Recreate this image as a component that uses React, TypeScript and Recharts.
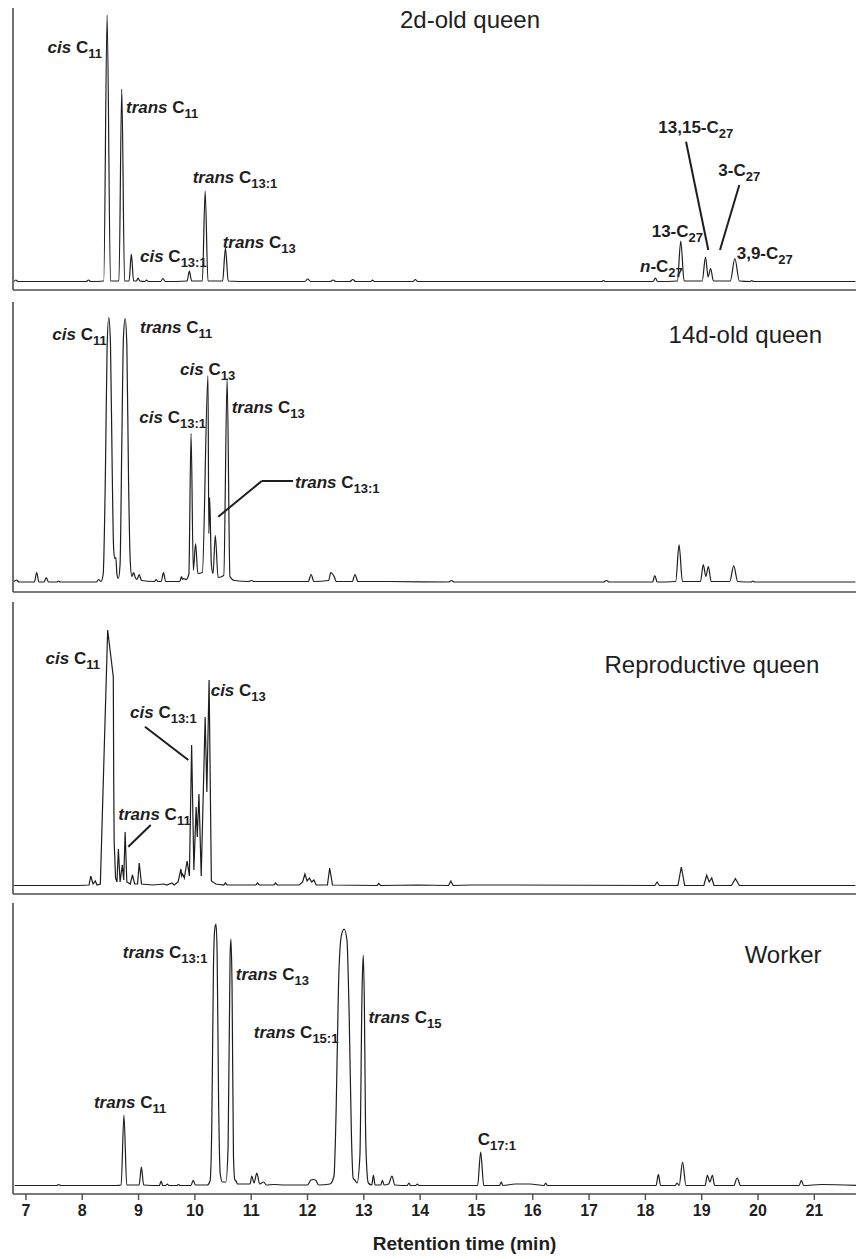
import React from 'react'
import { LineChart, Line, XAxis, YAxis, ReferenceDot, ReferenceLine } from 'recharts'

const FONT = '"Liberation Sans", Arial, Helvetica, sans-serif'
const INK = '#1e1e1e'
const AXIS = '#4d4d4d'

const timeTicks = [7, 8, 9, 10, 11, 12, 13, 14, 15, 16, 17, 18, 19, 20, 21]

// [retention time (min), detector signal (a.u.)]
const queen2d: [number, number][] = [
  [6.84, 0.5], [6.87, 2], [6.91, 0.5], [7.6, 0.5], [8.12, 0.5], [8.16, 2], [8.2, 0.5],
  [8.43, 1], [8.49, 267], [8.55, 1],
  [8.7, 1], [8.75, 193], [8.8, 1],
  [8.88, 1], [8.92, 28], [8.96, 1],
  [9.01, 1], [9.04, 4], [9.07, 1],
  [9.16, 0.5], [9.19, 2], [9.22, 0.5],
  [9.44, 0.5], [9.48, 3.5], [9.52, 0.5],
  [9.91, 1], [9.95, 11], [9.99, 1],
  [10.18, 1], [10.23, 91], [10.28, 1],
  [10.54, 1], [10.59, 34], [10.64, 1],
  [11.0, 0.5], [12.0, 0.5], [12.05, 3], [12.1, 0.5], [12.45, 0.5], [12.5, 2], [12.55, 0.5],
  [12.8, 0.5], [12.85, 2.5], [12.9, 0.5], [13.17, 0.5], [13.2, 2], [13.23, 0.5],
  [13.92, 0.5], [13.96, 2.5], [14.0, 0.5], [17.27, 0.5], [17.3, 1.5], [17.33, 0.5],
  [18.18, 0.5], [18.22, 4], [18.26, 0.5],
  [18.61, 1], [18.67, 41], [18.73, 1],
  [19.05, 1], [19.11, 25], [19.155, 5], [19.2, 13.5], [19.25, 1],
  [19.55, 1], [19.63, 23.5], [19.71, 1],
  [19.9, 0.5], [19.93, 1.5], [19.96, 0.5], [21.77, 0.5],
]

const queen14d: [number, number][] = [
  [6.84, 1], [6.88, 2.5], [6.93, 0.5], [7.2, 0.5], [7.24, 10], [7.28, 0.5], [7.37, 0.5], [7.41, 5],
  [7.45, 0.5], [7.6, 0.5], [7.63, 1.5], [7.66, 0.5], [8.3, 0.5], [8.34, 3], [8.38, 1],
  [8.42, 8], [8.46, 110], [8.49, 235], [8.52, 265], [8.55, 238], [8.58, 115], [8.605, 35],
  [8.625, 24], [8.645, 25], [8.665, 8], [8.69, 4],
  [8.72, 18], [8.75, 135], [8.78, 245], [8.81, 264], [8.84, 238], [8.87, 105], [8.9, 22], [8.93, 6],
  [8.96, 10], [8.99, 5], [9.02, 3], [9.06, 8], [9.1, 2], [9.33, 1], [9.36, 3], [9.39, 1],
  [9.45, 1], [9.49, 10], [9.53, 1], [9.78, 1], [9.81, 6], [9.83, 3], [9.85, 4], [9.89, 3],
  [9.94, 8], [9.98, 149], [10.02, 12], [10.06, 39], [10.1, 9],
  [10.18, 10], [10.28, 207], [10.295, 49], [10.31, 85], [10.34, 18], [10.37, 9],
  [10.41, 47], [10.46, 5], [10.56, 7], [10.62, 204], [10.67, 6], [10.75, 2],
  [11.0, 1], [11.05, 2], [11.1, 1], [12.06, 1], [12.11, 8], [12.16, 1], [12.42, 2], [12.46, 10],
  [12.51, 7], [12.56, 1], [12.84, 1], [12.89, 8], [12.94, 1], [13.5, 1], [14.55, 0.5], [14.6, 2],
  [14.65, 0.5], [17.3, 0.5], [17.35, 2], [17.4, 0.5],
  [18.17, 0.5], [18.21, 7], [18.25, 0.5], [18.58, 1], [18.64, 37.6], [18.7, 1],
  [19.02, 1], [19.07, 18], [19.115, 6], [19.16, 16], [19.21, 1], [19.54, 1], [19.61, 16.6],
  [19.68, 1], [19.92, 0.5], [19.95, 1.5], [19.98, 0.5], [21.77, 0.5],
]

const reproQueen: [number, number][] = [
  [6.84, 0.5], [7.5, 0.5], [8.0, 0.5], [8.17, 1], [8.2, 10], [8.24, 2], [8.28, 5], [8.31, 1], [8.37, 2],
  [8.5, 256], [8.6, 209], [8.607, 110], [8.615, 45], [8.64, 8], [8.665, 4], [8.69, 37], [8.72, 4],
  [8.76, 21], [8.785, 6], [8.81, 54], [8.84, 4], [8.9, 2], [8.94, 11], [8.98, 2], [9.03, 2],
  [9.06, 23], [9.1, 2], [9.3, 1], [9.5, 2], [9.55, 1], [9.64, 3], [9.68, 1], [9.75, 4],
  [9.8, 17], [9.815, 10], [9.83, 12], [9.86, 8], [9.91, 25], [9.95, 10], [9.99, 141],
  [10.03, 16], [10.07, 79], [10.09, 49], [10.12, 92], [10.16, 10], [10.23, 169], [10.26, 94],
  [10.3, 206], [10.34, 5], [10.42, 2], [10.56, 1], [10.59, 3], [10.62, 1], [11.13, 1], [11.16, 3],
  [11.19, 1], [11.45, 1], [11.48, 3], [11.51, 1], [11.9, 1], [11.96, 4], [12.0, 12], [12.04, 5],
  [12.08, 8], [12.12, 4], [12.16, 6], [12.2, 1], [12.4, 1], [12.44, 18], [12.49, 1],
  [13.28, 0.5], [13.31, 2.5], [13.34, 0.5], [14.0, 1], [14.55, 0.5], [14.59, 5], [14.63, 0.5],
  [14.94, 1], [15.74, 1], [18.21, 0.5], [18.25, 4], [18.29, 0.5], [18.62, 0.5], [18.68, 19],
  [18.74, 0.5], [19.08, 0.5], [19.13, 10.7], [19.175, 4], [19.22, 8], [19.26, 0.5],
  [19.57, 0.5], [19.64, 7.3], [19.71, 0.5], [21.77, 0.5],
]

const worker: [number, number][] = [
  [6.8, 0.5], [7.55, 0.5], [7.58, 1.5], [7.62, 0.5], [8.6, 0.5], [8.69, 1], [8.74, 71], [8.79, 1],
  [9.01, 1], [9.05, 19], [9.09, 1], [9.37, 0.5], [9.4, 5], [9.43, 0.5], [9.48, 0.5], [9.51, 2],
  [9.54, 0.5], [9.68, 0.5], [9.71, 1.5], [9.74, 0.5], [9.93, 0.5], [9.97, 5.7], [10.01, 1],
  [10.22, 1], [10.27, 5], [10.3, 60], [10.33, 220], [10.355, 258], [10.375, 262], [10.395, 232],
  [10.42, 90], [10.45, 12], [10.49, 4], [10.55, 4], [10.59, 40], [10.625, 230], [10.64, 247],
  [10.66, 200], [10.685, 30], [10.71, 6], [10.73, 5], [10.76, 2], [10.98, 2], [11.01, 10],
  [11.05, 3], [11.1, 13], [11.15, 2], [11.22, 4], [11.27, 1], [11.4, 1.5], [11.6, 1], [12.0, 1],
  [12.06, 6], [12.1, 6.5], [12.14, 6], [12.2, 1], [12.4, 2], [12.47, 10], [12.51, 80], [12.55, 200],
  [12.6, 250], [12.65, 257], [12.7, 246], [12.74, 170], [12.78, 50], [12.81, 8], [12.84, 6],
  [12.88, 3], [12.93, 30], [12.97, 200], [12.99, 231], [13.01, 180], [13.03, 60], [13.05, 20],
  [13.08, 3], [13.14, 1], [13.17, 10.7], [13.2, 1], [13.3, 1], [13.33, 5.7], [13.36, 1],
  [13.44, 2], [13.5, 10], [13.55, 1], [13.77, 0.5], [13.8, 3], [13.83, 0.5], [13.92, 0.5],
  [13.95, 2], [13.98, 0.5], [15.02, 0.5], [15.075, 34], [15.13, 0.5], [15.41, 0.5], [15.44, 4],
  [15.47, 0.5], [15.69, 2], [15.95, 2], [16.2, 0.5], [16.23, 3], [16.26, 0.5], [18.19, 0.5],
  [18.23, 11.7], [18.27, 0.5], [18.53, 0.5], [18.56, 3], [18.6, 0.5], [18.66, 24], [18.72, 0.5],
  [19.06, 0.5], [19.1, 10.7], [19.145, 4], [19.19, 10.7], [19.23, 0.5], [19.57, 0.5], [19.63, 8],
  [19.69, 0.5], [20.73, 0.5], [20.77, 5.7], [20.81, 0.5], [21.12, 1.5], [21.77, 0.5],
]

type Ann = { t: number; v: number; anchor: 'start' | 'end' | 'middle'; it?: string; main: string; sub?: string; title?: boolean }
type Seg = [number, number, number, number]

const queen2dLabels: Ann[] = [
  { t: 14.93, v: 254, anchor: 'middle', main: '2d-old queen', title: true },
  { t: 8.399, v: 228.7, anchor: 'end', it: 'cis', main: ' C', sub: '11' },
  { t: 8.825, v: 169, anchor: 'start', it: 'trans', main: ' C', sub: '11' },
  { t: 10.009, v: 99, anchor: 'start', it: 'trans', main: ' C', sub: '13:1' },
  { t: 9.074, v: 20, anchor: 'start', it: 'cis', main: ' C', sub: '13:1' },
  { t: 10.541, v: 34, anchor: 'start', it: 'trans', main: ' C', sub: '13' },
  { t: 18.272, v: 149.3, anchor: 'start', main: '13,15-C', sub: '27' },
  { t: 19.336, v: 106, anchor: 'start', main: '3-C', sub: '27' },
  { t: 18.154, v: 45.3, anchor: 'start', main: '13-C', sub: '27' },
  { t: 17.947, v: 10.3, anchor: 'start', it: 'n', main: '-C', sub: '27' },
  { t: 19.663, v: 22.7, anchor: 'start', main: '3,9-C', sub: '27' },
]
const queen2dLeaders: Seg[] = [
  [18.764, 140.3, 19.159, 32],
  [19.709, 97, 19.366, 32],
]

const queen14dLabels: Ann[] = [
  { t: 21.177, v: 239.5, anchor: 'end', main: '14d-old queen', title: true },
  { t: 8.483, v: 242.5, anchor: 'end', it: 'cis', main: ' C', sub: '11' },
  { t: 9.074, v: 249.5, anchor: 'start', it: 'trans', main: ' C', sub: '11' },
  { t: 9.784, v: 207.5, anchor: 'start', it: 'cis', main: ' C', sub: '13' },
  { t: 10.245, v: 159.5, anchor: 'end', it: 'cis', main: ' C', sub: '13:1' },
  { t: 10.701, v: 169.5, anchor: 'start', it: 'trans', main: ' C', sub: '13' },
  { t: 11.824, v: 94.2, anchor: 'start', it: 'trans', main: ' C', sub: '13:1' },
]
const queen14dLeaders: Seg[] = [
  [11.789, 101.5, 11.234, 101.5],
  [11.234, 101.5, 10.463, 65.8],
]

const reproLabels: Ann[] = [
  { t: 21.129, v: 212.7, anchor: 'end', main: 'Reproductive queen', title: true },
  { t: 8.364, v: 222, anchor: 'end', it: 'cis', main: ' C', sub: '11' },
  { t: 10.08, v: 168, anchor: 'end', it: 'cis', main: ' C', sub: '13:1' },
  { t: 8.689, v: 66, anchor: 'start', it: 'trans', main: ' C', sub: '11' },
  { t: 10.328, v: 190, anchor: 'start', it: 'cis', main: ' C', sub: '13' },
]
const reproLeaders: Seg[] = [
  [9.162, 159.3, 9.931, 126],
  [9.264, 61, 8.866, 39.3],
]

const workerLabels: Ann[] = [
  { t: 21.128, v: 223, anchor: 'end', main: 'Worker', title: true },
  { t: 10.222, v: 228, anchor: 'end', it: 'trans', main: ' C', sub: '13:1' },
  { t: 10.727, v: 206, anchor: 'start', it: 'trans', main: ' C', sub: '13' },
  { t: 12.549, v: 148, anchor: 'end', it: 'trans', main: ' C', sub: '15:1' },
  { t: 13.081, v: 163.3, anchor: 'start', it: 'trans', main: ' C', sub: '15' },
  { t: 8.207, v: 78, anchor: 'start', it: 'trans', main: ' C', sub: '11' },
  { t: 15.021, v: 41, anchor: 'start', main: 'C', sub: '17:1' },
]

// top: where the panel's svg starts; padTop: blank space above the plot
const panels = [
  { key: 'q2', data: queen2d, labels: queen2dLabels, leaders: queen2dLeaders, top: 0, padTop: 8, plotH: 282, y: [-8, 274], x: [6.82, 21.78], curve: 'monotone' },
  { key: 'q14', data: queen14d, labels: queen14dLabels, leaders: queen14dLeaders, top: 302, padTop: 0, plotH: 290, y: [-9.5, 280.5], x: [6.82, 21.78], curve: 'monotone' },
  { key: 'rq', data: reproQueen, labels: reproLabels, leaders: reproLeaders, top: 602, padTop: 0, plotH: 292, y: [-8, 284], x: [6.82, 21.78], curve: 'linear' },
  { key: 'w', data: worker, labels: workerLabels, leaders: [] as Seg[], top: 903, padTop: 0, plotH: 291, y: [-8, 283], x: [6.77, 21.74], curve: 'monotone' },
]

const AnnText = ({ cx, cy, a }: { cx: number; cy: number; a: Ann }) => {
  if (a.title) {
    return (
      <text x={cx} y={cy} textAnchor={a.anchor} fontFamily={FONT} fontSize={24} fill={INK}>
        {a.main}
      </text>
    )
  }
  return (
    <text x={cx} y={cy} textAnchor={a.anchor} fontFamily={FONT} fontSize={17} fontWeight="bold" fill={INK} style={{ whiteSpace: 'pre' }}>
      {a.it && <tspan fontStyle="italic">{a.it}</tspan>}
      <tspan>{a.main}</tspan>
      {a.sub && <tspan fontSize={13} dy={5}>{a.sub}</tspan>}
    </text>
  )
}

const AxisTitle = (props: any) => {
  const vb = props.viewBox || { x: 0, y: 0, width: 0 }
  return (
    <text x={vb.x + vb.width / 2 + 30} y={vb.y + 56} textAnchor="middle" fontFamily={FONT} fontSize={19} fontWeight="bold" fill={INK}>
      Retention time (min)
    </text>
  )
}

export default function App() {
  return (
    <div style={{ position: 'absolute', left: 0, top: 0, width: 856, height: 1259, background: '#fff' }}>
      {panels.map((p, i) => {
        const last = i === panels.length - 1
        const axisH = last ? 65 : 8
        const rows = p.data.map(([t, v]) => ({ t, v }))
        return (
          <div key={p.key} style={{ position: 'absolute', left: 0, top: p.top }}>
            <LineChart
              width={856}
              height={p.padTop + p.plotH + axisH}
              data={rows}
              margin={{ top: p.padTop, right: 0, bottom: 0, left: 12 }}
            >
              <XAxis
                dataKey="t"
                type="number"
                domain={p.x}
                allowDataOverflow
                ticks={timeTicks}
                interval={0}
                height={axisH}
                tickSize={6}
                tickMargin={5}
                axisLine={{ stroke: AXIS, strokeWidth: 1.6 }}
                tickLine={{ stroke: AXIS, strokeWidth: 1.4 }}
                tick={last ? { fill: INK, fontSize: 16, fontWeight: 'bold', fontFamily: FONT } : false}
                label={last ? <AxisTitle /> : undefined}
              />
              <YAxis
                type="number"
                domain={p.y}
                allowDataOverflow
                width={1}
                tick={false}
                tickLine={false}
                axisLine={{ stroke: AXIS, strokeWidth: 1.6 }}
              />
              <Line
                dataKey="v"
                type={p.curve as any}
                stroke={INK}
                strokeWidth={1.2}
                dot={false}
                activeDot={false}
                isAnimationActive={false}
              />
              {p.leaders.map((s, j) => (
                <ReferenceLine
                  key={'l' + j}
                  segment={[{ x: s[0], y: s[1] }, { x: s[2], y: s[3] }]}
                  stroke={INK}
                  strokeWidth={2}
                />
              ))}
              {p.labels.map((a, j) => (
                <ReferenceDot
                  key={'a' + j}
                  x={a.t}
                  y={a.v}
                  r={1}
                  shape={(sp: any) => <AnnText cx={sp.cx} cy={sp.cy} a={a} />}
                />
              ))}
            </LineChart>
          </div>
        )
      })}
    </div>
  )
}
